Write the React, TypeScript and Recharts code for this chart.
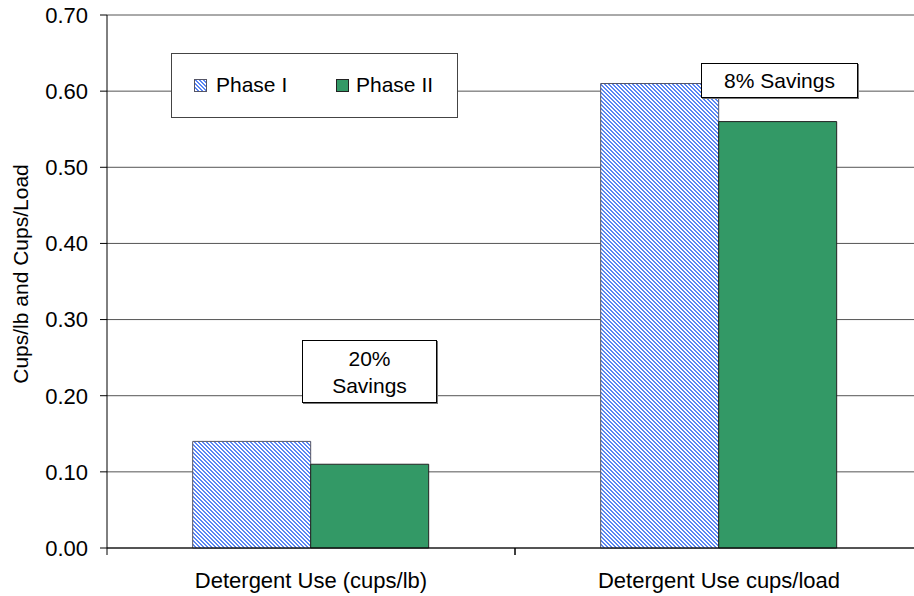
import React from "react";
import { Bar, BarChart, CartesianGrid, XAxis, YAxis } from "recharts";

const categories = ["Detergent Use (cups/lb)", "Detergent Use cups/load"];
const phase1 = [0.14, 0.61];
const phase2 = [0.11, 0.56];
const seriesNames = ["Phase I", "Phase II"];
const yTicks = [0, 0.1, 0.2, 0.3, 0.4, 0.5, 0.6, 0.7];

const data = categories.map((name, i) => ({ name, p1: phase1[i], p2: phase2[i] }));

const FONT = "'Liberation Sans', Arial, sans-serif";
const BLUE = "#5a86f4";
const GREEN = "#339966";

// 4x4 staircase tile, 2px blue band running top-left to bottom-right
function Hatch({ id }: { id: string }) {
  return (
    <pattern id={id} patternUnits="userSpaceOnUse" width={4} height={4}>
      <rect width={4} height={4} fill="#fff" />
      <g fill={BLUE} shapeRendering="crispEdges">
        <rect x={0} y={0} width={2} height={1} />
        <rect x={1} y={1} width={2} height={1} />
        <rect x={2} y={2} width={2} height={1} />
        <rect x={3} y={3} width={1} height={1} />
        <rect x={0} y={3} width={1} height={1} />
      </g>
    </pattern>
  );
}

function LegendBox() {
  return (
    <div
      style={{
        position: "absolute",
        left: 171,
        top: 53,
        width: 285,
        height: 63,
        border: "1px solid #444",
        background: "#fff",
        fontSize: 21,
        fontFamily: FONT,
      }}
    >
      <svg width={14} height={14} style={{ position: "absolute", left: 22, top: 25 }}>
        <defs>
          <Hatch id="hatchLegend" />
        </defs>
        <rect x={0.5} y={0.5} width={12} height={12} fill="url(#hatchLegend)" stroke="#556" />
      </svg>
      <span style={{ position: "absolute", left: 44, top: 19 }}>{seriesNames[0]}</span>
      <svg width={14} height={14} style={{ position: "absolute", left: 164, top: 25 }}>
        <rect x={0.5} y={0.5} width={12} height={12} fill={GREEN} stroke="#222" />
      </svg>
      <span style={{ position: "absolute", left: 184, top: 19 }}>{seriesNames[1]}</span>
    </div>
  );
}

function Note({ left, top, width, height, lines }: { left: number; top: number; width: number; height: number; lines: string[] }) {
  return (
    <div
      style={{
        position: "absolute",
        left,
        top,
        width,
        height,
        border: "1px solid #000",
        boxShadow: "1px 1px 0 #777",
        background: "#fff",
        fontSize: 21,
        fontFamily: FONT,
        lineHeight: "27px",
        textAlign: "center",
        display: "flex",
        flexDirection: "column",
        justifyContent: "center",
      }}
    >
      {lines.map((l) => (
        <div key={l}>{l}</div>
      ))}
    </div>
  );
}

// category label plus the short tick on the edges of each category band
function CategoryTick(props: any) {
  const { x, y, payload } = props;
  const half = payload && payload.offset ? payload.offset : 204;
  const axisY = y - 24;
  return (
    <g>
      <line x1={x - half} x2={x - half} y1={axisY} y2={axisY + 7} stroke="#000" />
      <line x1={x + half} x2={x + half} y1={axisY} y2={axisY + 7} stroke="#000" />
      <text x={x} y={y} dy="0.71em" textAnchor="middle" fill="#000" fontSize={22} fontFamily={FONT}>
        {payload.value}
      </text>
    </g>
  );
}

export default function App() {
  const tickStyle = { fill: "#000", fontSize: 22, fontFamily: FONT };
  return (
    <div
      style={{
        position: "absolute",
        left: 0,
        top: 0,
        width: 914,
        height: 596,
        overflow: "hidden",
        background: "#fff",
        fontFamily: FONT,
      }}
    >
      <BarChart
        width={930}
        height={596}
        data={data}
        margin={{ top: 15, right: 7, bottom: 8, left: 0 }}
        barCategoryGap="21%"
        barGap={0}
      >
        <defs>
          <Hatch id="hatch1" />
        </defs>
        <CartesianGrid vertical={false} stroke="#555" />
        <XAxis
          dataKey="name"
          height={40}
          axisLine={{ stroke: "#000" }}
          tickLine={false}
          tickSize={6}
          tickMargin={18}
          interval={0}
          tick={<CategoryTick />}
        />
        <YAxis
          width={107}
          domain={[0, 0.7]}
          ticks={yTicks}
          tickFormatter={(v: number) => v.toFixed(2)}
          tickSize={7}
          tickMargin={12}
          axisLine={{ stroke: "#000" }}
          tickLine={{ stroke: "#000" }}
          tick={tickStyle}
          label={{
            content: () => (
              <text
                x={20}
                y={274}
                transform="rotate(-90 20 274)"
                textAnchor="middle"
                dominantBaseline="central"
                fontSize={21}
                fontFamily={FONT}
                fill="#000"
              >
                Cups/lb and Cups/Load
              </text>
            ),
          }}
        />
        <Bar dataKey="p1" name={seriesNames[0]} fill="url(#hatch1)" stroke="#556" strokeWidth={1} isAnimationActive={false} />
        <Bar dataKey="p2" name={seriesNames[1]} fill={GREEN} stroke="#222" strokeWidth={1} isAnimationActive={false} />
      </BarChart>
      <LegendBox />
      <Note left={302} top={340} width={133} height={61} lines={["20%", "Savings"]} />
      <Note left={701} top={63} width={155} height={33} lines={["8% Savings"]} />
    </div>
  );
}
